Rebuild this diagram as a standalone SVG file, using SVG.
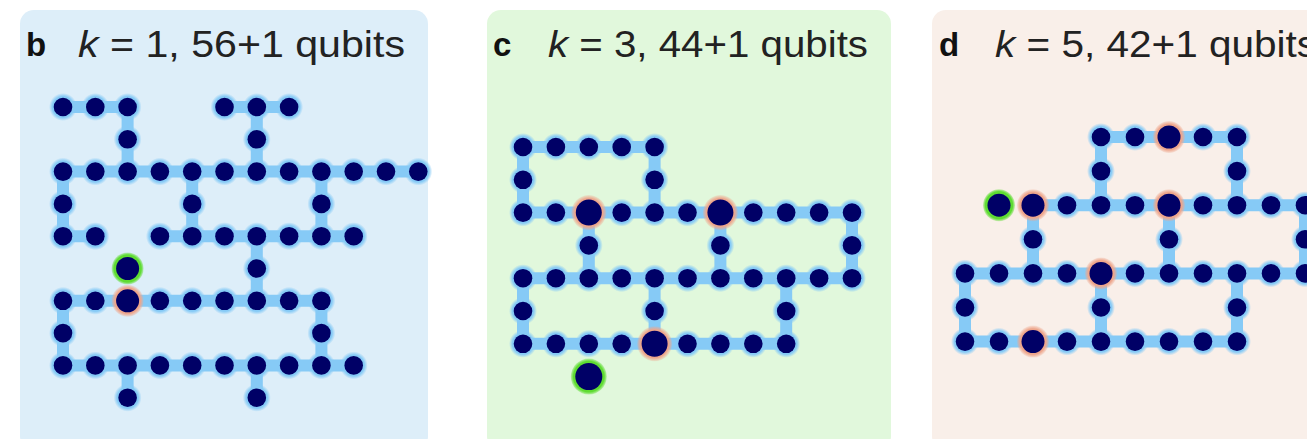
<svg xmlns="http://www.w3.org/2000/svg" xmlns:xlink="http://www.w3.org/1999/xlink" width="1307" height="439" viewBox="0 0 1307 439">
<style>
.lbl{font-family:"Liberation Sans",Arial,sans-serif;font-weight:bold;font-size:33px;fill:#111}
.ttl{font-family:"Liberation Sans",Arial,sans-serif;font-size:37px;fill:#222}
.ttl .k{font-style:italic}
.link{fill:none;stroke:#86caf6;stroke-width:12;stroke-linecap:butt}
</style>
<defs>
<radialGradient id="halo" r="0.5" cx="0.5" cy="0.5">
<stop offset="0.75" stop-color="#86caf6"/>
<stop offset="1" stop-color="#86caf6" stop-opacity="0"/>
</radialGradient>
<radialGradient id="orB" r="0.5"><stop offset="0.8" stop-color="#eea68c"/><stop offset="1" stop-color="#eea68c" stop-opacity="0.2"/></radialGradient>
<radialGradient id="grB" r="0.5"><stop offset="0.85" stop-color="#5fdc32"/><stop offset="1" stop-color="#5fdc32" stop-opacity="0.3"/></radialGradient>
<g id="q"><circle r="14" fill="url(#halo)"/><circle r="9.3" fill="#000066"/></g>
<g id="o"><circle r="16" fill="url(#orB)"/><circle r="11.5" fill="#000066"/></g>
<g id="g"><circle r="16" fill="url(#grB)"/><circle r="11.5" fill="#000066"/></g>
<g id="oL"><circle r="17.5" fill="url(#orB)"/><circle r="13" fill="#000066"/></g>
<g id="gL"><circle r="18" fill="url(#grB)"/><circle r="13.5" fill="#000066"/></g>
</defs>

<rect x="20" y="10" width="408" height="440" rx="14" fill="#ddeef9"/>
<rect x="487" y="10" width="404" height="440" rx="14" fill="#e1f8dc"/>
<rect x="932" y="10" width="400" height="440" rx="14" fill="#f9efe9"/>

<text class="lbl" x="26" y="56">b</text>
<text class="ttl" x="78" y="57" textLength="327" lengthAdjust="spacingAndGlyphs"><tspan class="k">k</tspan> = 1, 56+1 qubits</text>
<text class="lbl" x="493" y="56">c</text>
<text class="ttl" x="548" y="57" textLength="320" lengthAdjust="spacingAndGlyphs"><tspan class="k">k</tspan> = 3, 44+1 qubits</text>
<text class="lbl" x="939" y="56">d</text>
<text class="ttl" x="995" y="57" textLength="322" lengthAdjust="spacingAndGlyphs"><tspan class="k">k</tspan> = 5, 42+1 qubits</text>

<g id="connectors">
<path class="link" d="M63 107H127.6M224.5 107H289.1M63 171.6H418.3M63 236.2H95.3M159.9 236.2H353.7M63 300.8H321.4M63 365.4H353.7M127.6 107V171.6M256.8 107V171.6M63 171.6V236.2M192.2 171.6V236.2M321.4 171.6V236.2M256.8 236.2V300.8M63 300.8V365.4M321.4 300.8V365.4M127.6 365.4V397.7M256.8 365.4V397.7"/>
<path class="link" d="M523 147H654.6M523 212.6H852M523 278.2H852M523 343.8H786.2M523 147V212.6M654.6 147V212.6M588.8 212.6V278.2M720.4 212.6V278.2M852 212.6V278.2M523 278.2V343.8M654.6 278.2V343.8M786.2 278.2V343.8"/>
<path class="link" d="M1101 137H1237M1033 205.2H1310M965 273.4H1310M965 341.6H1237M1101 137V205.2M1237 137V205.2M1033 205.2V273.4M1169 205.2V273.4M1305 205.2V273.4M965 273.4V341.6M1101 273.4V341.6M1237 273.4V341.6"/>
</g>

<g id="panel-b">
<g id="b0-0"><use href="#q" x="63" y="107"/></g>
<g id="b0-1"><use href="#q" x="95.3" y="107"/></g>
<g id="b0-2"><use href="#q" x="127.6" y="107"/></g>
<g id="b0-5"><use href="#q" x="224.5" y="107"/></g>
<g id="b0-6"><use href="#q" x="256.8" y="107"/></g>
<g id="b0-7"><use href="#q" x="289.1" y="107"/></g>
<g id="b1-2"><use href="#q" x="127.6" y="139.3"/></g>
<g id="b1-6"><use href="#q" x="256.8" y="139.3"/></g>
<g id="b2-0"><use href="#q" x="63" y="171.6"/></g>
<g id="b2-1"><use href="#q" x="95.3" y="171.6"/></g>
<g id="b2-2"><use href="#q" x="127.6" y="171.6"/></g>
<g id="b2-3"><use href="#q" x="159.9" y="171.6"/></g>
<g id="b2-4"><use href="#q" x="192.2" y="171.6"/></g>
<g id="b2-5"><use href="#q" x="224.5" y="171.6"/></g>
<g id="b2-6"><use href="#q" x="256.8" y="171.6"/></g>
<g id="b2-7"><use href="#q" x="289.1" y="171.6"/></g>
<g id="b2-8"><use href="#q" x="321.4" y="171.6"/></g>
<g id="b2-9"><use href="#q" x="353.7" y="171.6"/></g>
<g id="b2-10"><use href="#q" x="386" y="171.6"/></g>
<g id="b2-11"><use href="#q" x="418.3" y="171.6"/></g>
<g id="b3-0"><use href="#q" x="63" y="203.9"/></g>
<g id="b3-4"><use href="#q" x="192.2" y="203.9"/></g>
<g id="b3-8"><use href="#q" x="321.4" y="203.9"/></g>
<g id="b4-0"><use href="#q" x="63" y="236.2"/></g>
<g id="b4-1"><use href="#q" x="95.3" y="236.2"/></g>
<g id="b4-3"><use href="#q" x="159.9" y="236.2"/></g>
<g id="b4-4"><use href="#q" x="192.2" y="236.2"/></g>
<g id="b4-5"><use href="#q" x="224.5" y="236.2"/></g>
<g id="b4-6"><use href="#q" x="256.8" y="236.2"/></g>
<g id="b4-7"><use href="#q" x="289.1" y="236.2"/></g>
<g id="b4-8"><use href="#q" x="321.4" y="236.2"/></g>
<g id="b4-9"><use href="#q" x="353.7" y="236.2"/></g>
<g id="b5-2-ancilla"><use href="#g" x="127.6" y="268.5"/></g>
<g id="b5-6"><use href="#q" x="256.8" y="268.5"/></g>
<g id="b6-0"><use href="#q" x="63" y="300.8"/></g>
<g id="b6-1"><use href="#q" x="95.3" y="300.8"/></g>
<g id="b6-2"><use href="#o" x="127.6" y="300.8"/></g>
<g id="b6-3"><use href="#q" x="159.9" y="300.8"/></g>
<g id="b6-4"><use href="#q" x="192.2" y="300.8"/></g>
<g id="b6-5"><use href="#q" x="224.5" y="300.8"/></g>
<g id="b6-6"><use href="#q" x="256.8" y="300.8"/></g>
<g id="b6-7"><use href="#q" x="289.1" y="300.8"/></g>
<g id="b6-8"><use href="#q" x="321.4" y="300.8"/></g>
<g id="b7-0"><use href="#q" x="63" y="333.1"/></g>
<g id="b7-8"><use href="#q" x="321.4" y="333.1"/></g>
<g id="b8-0"><use href="#q" x="63" y="365.4"/></g>
<g id="b8-1"><use href="#q" x="95.3" y="365.4"/></g>
<g id="b8-2"><use href="#q" x="127.6" y="365.4"/></g>
<g id="b8-3"><use href="#q" x="159.9" y="365.4"/></g>
<g id="b8-4"><use href="#q" x="192.2" y="365.4"/></g>
<g id="b8-5"><use href="#q" x="224.5" y="365.4"/></g>
<g id="b8-6"><use href="#q" x="256.8" y="365.4"/></g>
<g id="b8-7"><use href="#q" x="289.1" y="365.4"/></g>
<g id="b8-8"><use href="#q" x="321.4" y="365.4"/></g>
<g id="b8-9"><use href="#q" x="353.7" y="365.4"/></g>
<g id="b9-2"><use href="#q" x="127.6" y="397.7"/></g>
<g id="b9-6"><use href="#q" x="256.8" y="397.7"/></g>
</g>

<g id="panel-c">
<g id="c0-0"><use href="#q" x="523" y="147"/></g>
<g id="c0-1"><use href="#q" x="555.9" y="147"/></g>
<g id="c0-2"><use href="#q" x="588.8" y="147"/></g>
<g id="c0-3"><use href="#q" x="621.7" y="147"/></g>
<g id="c0-4"><use href="#q" x="654.6" y="147"/></g>
<g id="c1-0"><use href="#q" x="523" y="179.8"/></g>
<g id="c1-4"><use href="#q" x="654.6" y="179.8"/></g>
<g id="c2-0"><use href="#q" x="523" y="212.6"/></g>
<g id="c2-1"><use href="#q" x="555.9" y="212.6"/></g>
<g id="c2-2"><use href="#oL" x="588.8" y="212.6"/></g>
<g id="c2-3"><use href="#q" x="621.7" y="212.6"/></g>
<g id="c2-4"><use href="#q" x="654.6" y="212.6"/></g>
<g id="c2-5"><use href="#q" x="687.5" y="212.6"/></g>
<g id="c2-6"><use href="#oL" x="720.4" y="212.6"/></g>
<g id="c2-7"><use href="#q" x="753.3" y="212.6"/></g>
<g id="c2-8"><use href="#q" x="786.2" y="212.6"/></g>
<g id="c2-9"><use href="#q" x="819.1" y="212.6"/></g>
<g id="c2-10"><use href="#q" x="852" y="212.6"/></g>
<g id="c3-2"><use href="#q" x="588.8" y="245.4"/></g>
<g id="c3-6"><use href="#q" x="720.4" y="245.4"/></g>
<g id="c3-10"><use href="#q" x="852" y="245.4"/></g>
<g id="c4-0"><use href="#q" x="523" y="278.2"/></g>
<g id="c4-1"><use href="#q" x="555.9" y="278.2"/></g>
<g id="c4-2"><use href="#q" x="588.8" y="278.2"/></g>
<g id="c4-3"><use href="#q" x="621.7" y="278.2"/></g>
<g id="c4-4"><use href="#q" x="654.6" y="278.2"/></g>
<g id="c4-5"><use href="#q" x="687.5" y="278.2"/></g>
<g id="c4-6"><use href="#q" x="720.4" y="278.2"/></g>
<g id="c4-7"><use href="#q" x="753.3" y="278.2"/></g>
<g id="c4-8"><use href="#q" x="786.2" y="278.2"/></g>
<g id="c4-9"><use href="#q" x="819.1" y="278.2"/></g>
<g id="c4-10"><use href="#q" x="852" y="278.2"/></g>
<g id="c5-0"><use href="#q" x="523" y="311"/></g>
<g id="c5-4"><use href="#q" x="654.6" y="311"/></g>
<g id="c5-8"><use href="#q" x="786.2" y="311"/></g>
<g id="c6-0"><use href="#q" x="523" y="343.8"/></g>
<g id="c6-1"><use href="#q" x="555.9" y="343.8"/></g>
<g id="c6-2"><use href="#q" x="588.8" y="343.8"/></g>
<g id="c6-3"><use href="#q" x="621.7" y="343.8"/></g>
<g id="c6-4"><use href="#oL" x="654.6" y="343.8"/></g>
<g id="c6-5"><use href="#q" x="687.5" y="343.8"/></g>
<g id="c6-6"><use href="#q" x="720.4" y="343.8"/></g>
<g id="c6-7"><use href="#q" x="753.3" y="343.8"/></g>
<g id="c6-8"><use href="#q" x="786.2" y="343.8"/></g>
<g id="c7-2-ancilla"><use href="#gL" x="588.8" y="376.6"/></g>
</g>

<g id="panel-d">
<g id="d0-4"><use href="#q" x="1101" y="137"/></g>
<g id="d0-5"><use href="#q" x="1135" y="137"/></g>
<g id="d0-6"><use href="#o" x="1169" y="137"/></g>
<g id="d0-7"><use href="#q" x="1203" y="137"/></g>
<g id="d0-8"><use href="#q" x="1237" y="137"/></g>
<g id="d1-4"><use href="#q" x="1101" y="171.1"/></g>
<g id="d1-8"><use href="#q" x="1237" y="171.1"/></g>
<g id="d2-1-ancilla"><use href="#g" x="999" y="205.2"/></g>
<g id="d2-2"><use href="#o" x="1033" y="205.2"/></g>
<g id="d2-3"><use href="#q" x="1067" y="205.2"/></g>
<g id="d2-4"><use href="#q" x="1101" y="205.2"/></g>
<g id="d2-5"><use href="#q" x="1135" y="205.2"/></g>
<g id="d2-6"><use href="#o" x="1169" y="205.2"/></g>
<g id="d2-7"><use href="#q" x="1203" y="205.2"/></g>
<g id="d2-8"><use href="#q" x="1237" y="205.2"/></g>
<g id="d2-9"><use href="#q" x="1271" y="205.2"/></g>
<g id="d2-10"><use href="#q" x="1305" y="205.2"/></g>
<g id="d3-2"><use href="#q" x="1033" y="239.3"/></g>
<g id="d3-6"><use href="#q" x="1169" y="239.3"/></g>
<g id="d3-10"><use href="#q" x="1305" y="239.3"/></g>
<g id="d4-0"><use href="#q" x="965" y="273.4"/></g>
<g id="d4-1"><use href="#q" x="999" y="273.4"/></g>
<g id="d4-2"><use href="#q" x="1033" y="273.4"/></g>
<g id="d4-3"><use href="#q" x="1067" y="273.4"/></g>
<g id="d4-4"><use href="#o" x="1101" y="273.4"/></g>
<g id="d4-5"><use href="#q" x="1135" y="273.4"/></g>
<g id="d4-6"><use href="#q" x="1169" y="273.4"/></g>
<g id="d4-7"><use href="#q" x="1203" y="273.4"/></g>
<g id="d4-8"><use href="#q" x="1237" y="273.4"/></g>
<g id="d4-9"><use href="#q" x="1271" y="273.4"/></g>
<g id="d4-10"><use href="#q" x="1305" y="273.4"/></g>
<g id="d5-0"><use href="#q" x="965" y="307.5"/></g>
<g id="d5-4"><use href="#q" x="1101" y="307.5"/></g>
<g id="d5-8"><use href="#q" x="1237" y="307.5"/></g>
<g id="d6-0"><use href="#q" x="965" y="341.6"/></g>
<g id="d6-1"><use href="#q" x="999" y="341.6"/></g>
<g id="d6-2"><use href="#o" x="1033" y="341.6"/></g>
<g id="d6-3"><use href="#q" x="1067" y="341.6"/></g>
<g id="d6-4"><use href="#q" x="1101" y="341.6"/></g>
<g id="d6-5"><use href="#q" x="1135" y="341.6"/></g>
<g id="d6-6"><use href="#q" x="1169" y="341.6"/></g>
<g id="d6-7"><use href="#q" x="1203" y="341.6"/></g>
<g id="d6-8"><use href="#q" x="1237" y="341.6"/></g>
</g>
</svg>
